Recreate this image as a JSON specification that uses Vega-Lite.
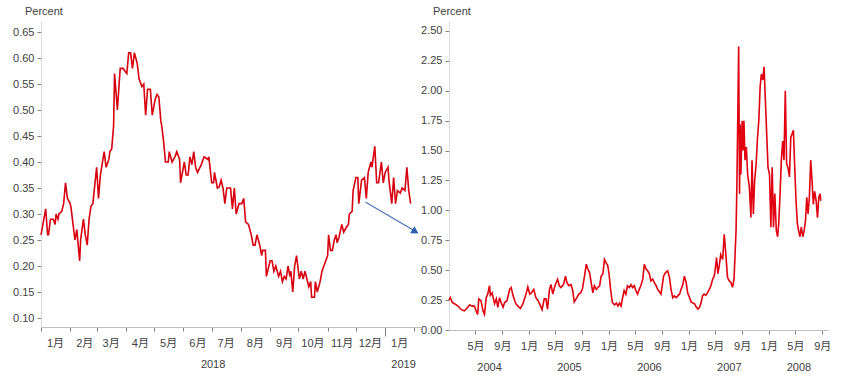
{
  "$schema": "https://vega.github.io/schema/vega-lite/v6.json",
  "padding": {"left": 12, "top": 6, "right": 0, "bottom": 0},
  "spacing": -9,
  "config": {
    "view": {"stroke": null},
    "font": "Liberation Sans, Noto Sans CJK SC, sans-serif",
    "axis": {
      "labelFont": "Liberation Sans, Noto Sans CJK SC, sans-serif",
      "labelFontSize": 11,
      "labelColor": "#404040",
      "domainColor": "#bfbfbf",
      "tickColor": "#808080",
      "grid": false,
      "labelFlush": false,
      "labelOverlap": false,
      "labelBound": false
    },
    "title": {
      "font": "Liberation Sans, sans-serif",
      "fontSize": 11,
      "fontWeight": "normal",
      "color": "#404040",
      "anchor": "start",
      "frame": "group",
      "offset": 4,
      "dx": -16
    }
  },
  "datasets": {
    "left": [
      {"d": "2018-01-01", "v": 0.26}, {"d": "2018-01-04", "v": 0.29}, {"d": "2018-01-06", "v": 0.31}, {"d": "2018-01-08", "v": 0.26},
      {"d": "2018-01-09", "v": 0.26}, {"d": "2018-01-11", "v": 0.29}, {"d": "2018-01-14", "v": 0.29}, {"d": "2018-01-16", "v": 0.28},
      {"d": "2018-01-17", "v": 0.30}, {"d": "2018-01-19", "v": 0.29}, {"d": "2018-01-20", "v": 0.30}, {"d": "2018-01-23", "v": 0.305},
      {"d": "2018-01-25", "v": 0.32}, {"d": "2018-01-27", "v": 0.36}, {"d": "2018-01-29", "v": 0.33}, {"d": "2018-02-01", "v": 0.32},
      {"d": "2018-02-02", "v": 0.31}, {"d": "2018-02-04", "v": 0.28}, {"d": "2018-02-06", "v": 0.25}, {"d": "2018-02-08", "v": 0.27},
      {"d": "2018-02-11", "v": 0.21}, {"d": "2018-02-12", "v": 0.25}, {"d": "2018-02-15", "v": 0.29}, {"d": "2018-02-17", "v": 0.26},
      {"d": "2018-02-19", "v": 0.24}, {"d": "2018-02-21", "v": 0.29}, {"d": "2018-02-23", "v": 0.315}, {"d": "2018-02-25", "v": 0.32},
      {"d": "2018-02-27", "v": 0.355}, {"d": "2018-03-01", "v": 0.39}, {"d": "2018-03-03", "v": 0.33}, {"d": "2018-03-05", "v": 0.375},
      {"d": "2018-03-09", "v": 0.42}, {"d": "2018-03-11", "v": 0.39}, {"d": "2018-03-14", "v": 0.405}, {"d": "2018-03-15", "v": 0.42},
      {"d": "2018-03-17", "v": 0.425}, {"d": "2018-03-19", "v": 0.47}, {"d": "2018-03-20", "v": 0.57}, {"d": "2018-03-23", "v": 0.50},
      {"d": "2018-03-26", "v": 0.58}, {"d": "2018-03-29", "v": 0.58}, {"d": "2018-04-02", "v": 0.57}, {"d": "2018-04-04", "v": 0.61},
      {"d": "2018-04-06", "v": 0.61}, {"d": "2018-04-08", "v": 0.58}, {"d": "2018-04-10", "v": 0.61}, {"d": "2018-04-13", "v": 0.59},
      {"d": "2018-04-15", "v": 0.56}, {"d": "2018-04-18", "v": 0.545}, {"d": "2018-04-20", "v": 0.55}, {"d": "2018-04-22", "v": 0.49},
      {"d": "2018-04-24", "v": 0.54}, {"d": "2018-04-27", "v": 0.54}, {"d": "2018-04-29", "v": 0.49}, {"d": "2018-05-02", "v": 0.52},
      {"d": "2018-05-04", "v": 0.53}, {"d": "2018-05-06", "v": 0.525}, {"d": "2018-05-08", "v": 0.48}, {"d": "2018-05-09", "v": 0.47},
      {"d": "2018-05-11", "v": 0.44}, {"d": "2018-05-13", "v": 0.40}, {"d": "2018-05-16", "v": 0.40}, {"d": "2018-05-17", "v": 0.42},
      {"d": "2018-05-20", "v": 0.40}, {"d": "2018-05-23", "v": 0.41}, {"d": "2018-05-25", "v": 0.42}, {"d": "2018-05-28", "v": 0.405},
      {"d": "2018-05-29", "v": 0.36}, {"d": "2018-06-02", "v": 0.40}, {"d": "2018-06-04", "v": 0.375}, {"d": "2018-06-06", "v": 0.375},
      {"d": "2018-06-08", "v": 0.41}, {"d": "2018-06-10", "v": 0.395}, {"d": "2018-06-12", "v": 0.42}, {"d": "2018-06-14", "v": 0.39},
      {"d": "2018-06-16", "v": 0.38}, {"d": "2018-06-20", "v": 0.395}, {"d": "2018-06-23", "v": 0.41}, {"d": "2018-06-27", "v": 0.405},
      {"d": "2018-06-28", "v": 0.41}, {"d": "2018-07-01", "v": 0.36}, {"d": "2018-07-03", "v": 0.36}, {"d": "2018-07-04", "v": 0.38},
      {"d": "2018-07-07", "v": 0.35}, {"d": "2018-07-09", "v": 0.352}, {"d": "2018-07-11", "v": 0.365}, {"d": "2018-07-13", "v": 0.35},
      {"d": "2018-07-15", "v": 0.32}, {"d": "2018-07-17", "v": 0.35}, {"d": "2018-07-21", "v": 0.35}, {"d": "2018-07-23", "v": 0.31},
      {"d": "2018-07-25", "v": 0.35}, {"d": "2018-07-27", "v": 0.30}, {"d": "2018-07-30", "v": 0.32}, {"d": "2018-08-02", "v": 0.32},
      {"d": "2018-08-04", "v": 0.33}, {"d": "2018-08-06", "v": 0.285}, {"d": "2018-08-09", "v": 0.28}, {"d": "2018-08-12", "v": 0.26},
      {"d": "2018-08-14", "v": 0.24}, {"d": "2018-08-16", "v": 0.24}, {"d": "2018-08-18", "v": 0.26}, {"d": "2018-08-21", "v": 0.24},
      {"d": "2018-08-23", "v": 0.22}, {"d": "2018-08-24", "v": 0.23}, {"d": "2018-08-27", "v": 0.23}, {"d": "2018-08-28", "v": 0.18},
      {"d": "2018-09-01", "v": 0.21}, {"d": "2018-09-03", "v": 0.21}, {"d": "2018-09-05", "v": 0.19}, {"d": "2018-09-07", "v": 0.20},
      {"d": "2018-09-10", "v": 0.18}, {"d": "2018-09-12", "v": 0.19}, {"d": "2018-09-14", "v": 0.17}, {"d": "2018-09-16", "v": 0.18},
      {"d": "2018-09-18", "v": 0.175}, {"d": "2018-09-20", "v": 0.20}, {"d": "2018-09-22", "v": 0.18}, {"d": "2018-09-23", "v": 0.19},
      {"d": "2018-09-25", "v": 0.15}, {"d": "2018-09-27", "v": 0.20}, {"d": "2018-09-29", "v": 0.22}, {"d": "2018-10-02", "v": 0.175},
      {"d": "2018-10-04", "v": 0.19}, {"d": "2018-10-06", "v": 0.175}, {"d": "2018-10-08", "v": 0.19}, {"d": "2018-10-10", "v": 0.175},
      {"d": "2018-10-12", "v": 0.16}, {"d": "2018-10-14", "v": 0.17}, {"d": "2018-10-15", "v": 0.14}, {"d": "2018-10-18", "v": 0.14},
      {"d": "2018-10-19", "v": 0.17}, {"d": "2018-10-21", "v": 0.15}, {"d": "2018-10-24", "v": 0.17}, {"d": "2018-10-26", "v": 0.19},
      {"d": "2018-10-28", "v": 0.20}, {"d": "2018-11-01", "v": 0.22}, {"d": "2018-11-02", "v": 0.26}, {"d": "2018-11-04", "v": 0.23},
      {"d": "2018-11-06", "v": 0.23}, {"d": "2018-11-08", "v": 0.25}, {"d": "2018-11-10", "v": 0.26}, {"d": "2018-11-11", "v": 0.245},
      {"d": "2018-11-13", "v": 0.255}, {"d": "2018-11-16", "v": 0.28}, {"d": "2018-11-18", "v": 0.265}, {"d": "2018-11-21", "v": 0.275},
      {"d": "2018-11-23", "v": 0.28}, {"d": "2018-11-24", "v": 0.30}, {"d": "2018-11-27", "v": 0.305}, {"d": "2018-11-28", "v": 0.345},
      {"d": "2018-12-01", "v": 0.37}, {"d": "2018-12-03", "v": 0.37}, {"d": "2018-12-04", "v": 0.32}, {"d": "2018-12-07", "v": 0.365},
      {"d": "2018-12-10", "v": 0.37}, {"d": "2018-12-12", "v": 0.33}, {"d": "2018-12-14", "v": 0.38}, {"d": "2018-12-17", "v": 0.40},
      {"d": "2018-12-18", "v": 0.39}, {"d": "2018-12-21", "v": 0.43}, {"d": "2018-12-23", "v": 0.36}, {"d": "2018-12-25", "v": 0.36},
      {"d": "2018-12-28", "v": 0.40}, {"d": "2018-12-30", "v": 0.36}, {"d": "2019-01-01", "v": 0.38}, {"d": "2019-01-04", "v": 0.39},
      {"d": "2019-01-05", "v": 0.365}, {"d": "2019-01-08", "v": 0.32}, {"d": "2019-01-10", "v": 0.37}, {"d": "2019-01-12", "v": 0.32},
      {"d": "2019-01-14", "v": 0.345}, {"d": "2019-01-17", "v": 0.34}, {"d": "2019-01-19", "v": 0.35}, {"d": "2019-01-22", "v": 0.345},
      {"d": "2019-01-24", "v": 0.39}, {"d": "2019-01-26", "v": 0.345}, {"d": "2019-01-28", "v": 0.32}
    ],
    "right": [
      {"d": "2004-01-01", "v": 0.25}, {"d": "2004-01-07", "v": 0.27}, {"d": "2004-01-16", "v": 0.23}, {"d": "2004-01-26", "v": 0.22},
      {"d": "2004-02-11", "v": 0.20}, {"d": "2004-02-26", "v": 0.17}, {"d": "2004-03-11", "v": 0.16}, {"d": "2004-03-22", "v": 0.18},
      {"d": "2004-04-04", "v": 0.21}, {"d": "2004-04-16", "v": 0.20}, {"d": "2004-04-26", "v": 0.20}, {"d": "2004-05-04", "v": 0.16},
      {"d": "2004-05-11", "v": 0.13}, {"d": "2004-05-16", "v": 0.26}, {"d": "2004-05-26", "v": 0.245}, {"d": "2004-06-04", "v": 0.16},
      {"d": "2004-06-11", "v": 0.13}, {"d": "2004-06-19", "v": 0.27}, {"d": "2004-06-26", "v": 0.30}, {"d": "2004-07-04", "v": 0.37},
      {"d": "2004-07-08", "v": 0.29}, {"d": "2004-07-16", "v": 0.31}, {"d": "2004-07-27", "v": 0.22}, {"d": "2004-08-04", "v": 0.26},
      {"d": "2004-08-11", "v": 0.19}, {"d": "2004-08-19", "v": 0.27}, {"d": "2004-08-26", "v": 0.23}, {"d": "2004-09-04", "v": 0.19},
      {"d": "2004-09-11", "v": 0.23}, {"d": "2004-09-22", "v": 0.245}, {"d": "2004-10-04", "v": 0.34}, {"d": "2004-10-11", "v": 0.355},
      {"d": "2004-10-19", "v": 0.29}, {"d": "2004-11-01", "v": 0.22}, {"d": "2004-11-11", "v": 0.20}, {"d": "2004-11-22", "v": 0.18},
      {"d": "2004-12-04", "v": 0.22}, {"d": "2004-12-19", "v": 0.31}, {"d": "2004-12-26", "v": 0.36}, {"d": "2005-01-04", "v": 0.30},
      {"d": "2005-01-11", "v": 0.31}, {"d": "2005-01-22", "v": 0.34}, {"d": "2005-02-01", "v": 0.27}, {"d": "2005-02-11", "v": 0.245},
      {"d": "2005-02-20", "v": 0.21}, {"d": "2005-03-01", "v": 0.17}, {"d": "2005-03-11", "v": 0.26}, {"d": "2005-03-19", "v": 0.26},
      {"d": "2005-03-26", "v": 0.175}, {"d": "2005-04-04", "v": 0.34}, {"d": "2005-04-11", "v": 0.38}, {"d": "2005-04-19", "v": 0.30},
      {"d": "2005-04-29", "v": 0.37}, {"d": "2005-05-11", "v": 0.425}, {"d": "2005-05-19", "v": 0.37}, {"d": "2005-05-26", "v": 0.355},
      {"d": "2005-06-07", "v": 0.38}, {"d": "2005-06-16", "v": 0.45}, {"d": "2005-06-22", "v": 0.40}, {"d": "2005-07-01", "v": 0.37},
      {"d": "2005-07-11", "v": 0.38}, {"d": "2005-07-19", "v": 0.33}, {"d": "2005-07-26", "v": 0.235}, {"d": "2005-08-07", "v": 0.27},
      {"d": "2005-08-16", "v": 0.30}, {"d": "2005-08-24", "v": 0.31}, {"d": "2005-09-01", "v": 0.34}, {"d": "2005-09-11", "v": 0.45},
      {"d": "2005-09-19", "v": 0.55}, {"d": "2005-09-26", "v": 0.51}, {"d": "2005-10-04", "v": 0.48}, {"d": "2005-10-11", "v": 0.40},
      {"d": "2005-10-19", "v": 0.31}, {"d": "2005-10-26", "v": 0.37}, {"d": "2005-11-04", "v": 0.34}, {"d": "2005-11-11", "v": 0.355},
      {"d": "2005-11-19", "v": 0.37}, {"d": "2005-11-26", "v": 0.45}, {"d": "2005-12-04", "v": 0.47}, {"d": "2005-12-11", "v": 0.59},
      {"d": "2005-12-19", "v": 0.56}, {"d": "2005-12-26", "v": 0.54}, {"d": "2006-01-01", "v": 0.47}, {"d": "2006-01-08", "v": 0.34},
      {"d": "2006-01-16", "v": 0.23}, {"d": "2006-01-26", "v": 0.21}, {"d": "2006-02-04", "v": 0.225}, {"d": "2006-02-11", "v": 0.20},
      {"d": "2006-02-18", "v": 0.225}, {"d": "2006-02-25", "v": 0.20}, {"d": "2006-03-04", "v": 0.27}, {"d": "2006-03-11", "v": 0.33},
      {"d": "2006-03-19", "v": 0.30}, {"d": "2006-03-26", "v": 0.37}, {"d": "2006-04-04", "v": 0.355}, {"d": "2006-04-11", "v": 0.38},
      {"d": "2006-04-19", "v": 0.355}, {"d": "2006-04-26", "v": 0.37}, {"d": "2006-05-01", "v": 0.34}, {"d": "2006-05-11", "v": 0.30},
      {"d": "2006-05-19", "v": 0.34}, {"d": "2006-05-26", "v": 0.37}, {"d": "2006-06-04", "v": 0.425}, {"d": "2006-06-11", "v": 0.55},
      {"d": "2006-06-19", "v": 0.51}, {"d": "2006-06-26", "v": 0.495}, {"d": "2006-07-04", "v": 0.47}, {"d": "2006-07-11", "v": 0.41},
      {"d": "2006-07-19", "v": 0.425}, {"d": "2006-07-26", "v": 0.40}, {"d": "2006-08-04", "v": 0.37}, {"d": "2006-08-11", "v": 0.34},
      {"d": "2006-08-19", "v": 0.32}, {"d": "2006-08-26", "v": 0.30}, {"d": "2006-09-01", "v": 0.37}, {"d": "2006-09-07", "v": 0.45},
      {"d": "2006-09-16", "v": 0.48}, {"d": "2006-09-26", "v": 0.495}, {"d": "2006-10-04", "v": 0.44}, {"d": "2006-10-11", "v": 0.34},
      {"d": "2006-10-19", "v": 0.27}, {"d": "2006-10-26", "v": 0.285}, {"d": "2006-11-04", "v": 0.27}, {"d": "2006-11-11", "v": 0.285},
      {"d": "2006-11-19", "v": 0.30}, {"d": "2006-11-26", "v": 0.34}, {"d": "2006-12-04", "v": 0.38}, {"d": "2006-12-11", "v": 0.45},
      {"d": "2006-12-19", "v": 0.40}, {"d": "2006-12-26", "v": 0.31}, {"d": "2007-01-04", "v": 0.27}, {"d": "2007-01-11", "v": 0.235},
      {"d": "2007-01-19", "v": 0.225}, {"d": "2007-01-26", "v": 0.22}, {"d": "2007-02-04", "v": 0.19}, {"d": "2007-02-11", "v": 0.175},
      {"d": "2007-02-18", "v": 0.19}, {"d": "2007-02-25", "v": 0.225}, {"d": "2007-03-04", "v": 0.285}, {"d": "2007-03-11", "v": 0.30},
      {"d": "2007-03-19", "v": 0.29}, {"d": "2007-03-26", "v": 0.31}, {"d": "2007-04-04", "v": 0.34}, {"d": "2007-04-11", "v": 0.37},
      {"d": "2007-04-19", "v": 0.425}, {"d": "2007-04-26", "v": 0.45}, {"d": "2007-04-29", "v": 0.48}, {"d": "2007-05-07", "v": 0.605},
      {"d": "2007-05-13", "v": 0.47}, {"d": "2007-05-19", "v": 0.535}, {"d": "2007-05-26", "v": 0.63}, {"d": "2007-06-04", "v": 0.59},
      {"d": "2007-06-11", "v": 0.80}, {"d": "2007-06-19", "v": 0.62}, {"d": "2007-06-26", "v": 0.44}, {"d": "2007-07-04", "v": 0.41},
      {"d": "2007-07-11", "v": 0.40}, {"d": "2007-07-19", "v": 0.357}, {"d": "2007-07-26", "v": 0.43}, {"d": "2007-08-04", "v": 0.83},
      {"d": "2007-08-08", "v": 1.22}, {"d": "2007-08-16", "v": 2.37}, {"d": "2007-08-20", "v": 1.14}, {"d": "2007-08-23", "v": 1.72},
      {"d": "2007-08-26", "v": 1.30}, {"d": "2007-09-01", "v": 1.75}, {"d": "2007-09-05", "v": 1.50}, {"d": "2007-09-09", "v": 1.75},
      {"d": "2007-09-14", "v": 1.42}, {"d": "2007-09-20", "v": 1.53}, {"d": "2007-09-26", "v": 1.30}, {"d": "2007-10-04", "v": 1.19},
      {"d": "2007-10-11", "v": 0.94}, {"d": "2007-10-16", "v": 1.42}, {"d": "2007-10-22", "v": 0.97}, {"d": "2007-10-28", "v": 1.25},
      {"d": "2007-11-04", "v": 1.39}, {"d": "2007-11-10", "v": 1.61}, {"d": "2007-11-16", "v": 1.75}, {"d": "2007-11-22", "v": 2.03},
      {"d": "2007-11-26", "v": 2.11}, {"d": "2007-11-28", "v": 2.14}, {"d": "2007-12-04", "v": 2.09}, {"d": "2007-12-10", "v": 2.20},
      {"d": "2007-12-16", "v": 1.92}, {"d": "2007-12-22", "v": 1.64}, {"d": "2007-12-28", "v": 1.36}, {"d": "2008-01-04", "v": 1.30},
      {"d": "2008-01-10", "v": 0.86}, {"d": "2008-01-16", "v": 1.36}, {"d": "2008-01-22", "v": 0.86}, {"d": "2008-01-28", "v": 1.14},
      {"d": "2008-02-04", "v": 0.83}, {"d": "2008-02-10", "v": 0.78}, {"d": "2008-02-15", "v": 0.89}, {"d": "2008-02-21", "v": 1.14},
      {"d": "2008-02-27", "v": 1.42}, {"d": "2008-03-04", "v": 1.58}, {"d": "2008-03-10", "v": 1.42}, {"d": "2008-03-16", "v": 2.00},
      {"d": "2008-03-22", "v": 1.39}, {"d": "2008-03-28", "v": 1.36}, {"d": "2008-04-04", "v": 1.28}, {"d": "2008-04-10", "v": 1.61},
      {"d": "2008-04-16", "v": 1.64}, {"d": "2008-04-22", "v": 1.67}, {"d": "2008-04-28", "v": 1.36}, {"d": "2008-05-04", "v": 1.08},
      {"d": "2008-05-10", "v": 0.89}, {"d": "2008-05-16", "v": 0.83}, {"d": "2008-05-22", "v": 0.78}, {"d": "2008-05-28", "v": 0.86},
      {"d": "2008-06-04", "v": 0.78}, {"d": "2008-06-10", "v": 0.83}, {"d": "2008-06-16", "v": 0.91}, {"d": "2008-06-22", "v": 1.11},
      {"d": "2008-06-28", "v": 0.97}, {"d": "2008-07-04", "v": 1.11}, {"d": "2008-07-10", "v": 1.42}, {"d": "2008-07-16", "v": 1.25},
      {"d": "2008-07-22", "v": 1.05}, {"d": "2008-07-28", "v": 1.16}, {"d": "2008-08-04", "v": 1.08}, {"d": "2008-08-10", "v": 0.94},
      {"d": "2008-08-16", "v": 1.11}, {"d": "2008-08-22", "v": 1.14}, {"d": "2008-08-25", "v": 1.08}
    ],
    "arrow": [{"d": "2018-12-11", "v": 0.323, "d2": "2019-02-01", "v2": 0.268}],
    "arrowhead": [{"d": "2019-02-02", "v": 0.266}]
  },
  "hconcat": [
    {
      "width": 380,
      "height": 306,
      "title": "Percent",
      "resolve": {"axis": {"x": "independent"}},
      "layer": [
        {
          "data": {"name": "left"},
          "mark": {"type": "line", "color": "#d7000f", "strokeWidth": 1.6},
          "encoding": {
            "x": {
              "field": "d", "type": "temporal",
              "scale": {"type": "utc", "domain": [{"year": 2018, "month": 1, "date": 1, "utc": true}, {"year": 2019, "month": 2, "date": 8, "utc": true}]},
              "axis": {
                "title": null, "orient": "bottom",
                "values": [
                  {"year": 2018, "month": 1, "date": 1, "utc": true}, {"year": 2018, "month": 2, "date": 1, "utc": true},
                  {"year": 2018, "month": 3, "date": 1, "utc": true}, {"year": 2018, "month": 4, "date": 1, "utc": true},
                  {"year": 2018, "month": 5, "date": 1, "utc": true}, {"year": 2018, "month": 6, "date": 1, "utc": true},
                  {"year": 2018, "month": 7, "date": 1, "utc": true}, {"year": 2018, "month": 8, "date": 1, "utc": true},
                  {"year": 2018, "month": 9, "date": 1, "utc": true}, {"year": 2018, "month": 10, "date": 1, "utc": true},
                  {"year": 2018, "month": 11, "date": 1, "utc": true}, {"year": 2018, "month": 12, "date": 1, "utc": true},
                  {"year": 2019, "month": 1, "date": 1, "utc": true}, {"year": 2019, "month": 2, "date": 1, "utc": true}
                ],
                "labelExpr": "utcyear(datum.value) == 2019 && utcmonth(datum.value) == 1 ? '' : (utcmonth(datum.value) + 1) + '月'",
                "labelOffset": 14,
                "labelPadding": {"condition": {"test": "utcyear(datum.value) == 2019 && utcmonth(datum.value) == 0", "value": 1}, "value": 6},
                "tickSize": {"condition": {"test": "utcyear(datum.value) == 2019 && utcmonth(datum.value) == 0", "value": 9}, "value": 4}
              }
            },
            "y": {
              "field": "v", "type": "quantitative",
              "scale": {"domain": [0.0827, 0.6712], "nice": false, "zero": false},
              "axis": {
                "title": null,
                "values": [0.1, 0.15, 0.2, 0.25, 0.3, 0.35, 0.4, 0.45, 0.5, 0.55, 0.6, 0.65],
                "format": ".2f", "tickSize": 4, "labelPadding": 3, "domainColor": "#d9d9d9"
              }
            }
          }
        },
        {
          "data": {"name": "left"},
          "mark": {"type": "rule", "opacity": 0},
          "encoding": {
            "x": {
              "field": "d", "type": "temporal",
              "axis": {
                "title": null, "orient": "bottom", "domain": false, "ticks": false, "tickSize": 0,
                "values": [{"year": 2018, "month": 7, "date": 2, "utc": true}, {"year": 2019, "month": 1, "date": 20, "utc": true}],
                "labelExpr": "utcFormat(datum.value, '%Y')",
                "labelPadding": 31
              }
            }
          }
        },
        {
          "data": {"name": "arrow"},
          "mark": {"type": "rule", "color": "#4a72b8", "strokeWidth": 1.2},
          "encoding": {
            "x": {"field": "d", "type": "temporal", "axis": null},
            "x2": {"field": "d2"},
            "y": {
              "field": "v", "type": "quantitative",
              "axis": {
                "title": null,
                "values": [0.1, 0.15, 0.2, 0.25, 0.3, 0.35, 0.4, 0.45, 0.5, 0.55, 0.6, 0.65],
                "format": ".2f", "tickSize": 4, "labelPadding": 3, "domainColor": "#d9d9d9"
              }
            },
            "y2": {"field": "v2"}
          }
        },
        {
          "data": {"name": "arrowhead"},
          "mark": {"type": "point", "shape": "triangle-right", "angle": 32, "size": 70, "filled": true, "color": "#2f5fb0", "opacity": 1},
          "encoding": {
            "x": {"field": "d", "type": "temporal", "axis": null},
            "y": {
              "field": "v", "type": "quantitative",
              "axis": {
                "title": null,
                "values": [0.1, 0.15, 0.2, 0.25, 0.3, 0.35, 0.4, 0.45, 0.5, 0.55, 0.6, 0.65],
                "format": ".2f", "tickSize": 4, "labelPadding": 3, "domainColor": "#d9d9d9"
              }
            }
          }
        }
      ]
    },
    {
      "width": 379,
      "height": 309,
      "title": "Percent",
      "resolve": {"axis": {"x": "independent"}},
      "layer": [
        {
          "data": {"name": "right"},
          "mark": {"type": "line", "color": "#e0000f", "strokeWidth": 1.6},
          "encoding": {
            "x": {
              "field": "d", "type": "temporal",
              "scale": {"type": "utc", "domain": [{"year": 2004, "month": 1, "date": 1, "utc": true}, {"year": 2008, "month": 9, "date": 27, "utc": true}]},
              "axis": {
                "title": null, "orient": "bottom",
                "values": [
                  {"year": 2004, "month": 5, "date": 1, "utc": true}, {"year": 2004, "month": 9, "date": 1, "utc": true},
                  {"year": 2005, "month": 1, "date": 1, "utc": true}, {"year": 2005, "month": 5, "date": 1, "utc": true},
                  {"year": 2005, "month": 9, "date": 1, "utc": true}, {"year": 2006, "month": 1, "date": 1, "utc": true},
                  {"year": 2006, "month": 5, "date": 1, "utc": true}, {"year": 2006, "month": 9, "date": 1, "utc": true},
                  {"year": 2007, "month": 1, "date": 1, "utc": true}, {"year": 2007, "month": 5, "date": 1, "utc": true},
                  {"year": 2007, "month": 9, "date": 1, "utc": true}, {"year": 2008, "month": 1, "date": 1, "utc": true},
                  {"year": 2008, "month": 5, "date": 1, "utc": true}, {"year": 2008, "month": 9, "date": 1, "utc": true}
                ],
                "labelExpr": "(utcmonth(datum.value) + 1) + '月'",
                "labelPadding": 6,
                "tickSize": 4
              }
            },
            "y": {
              "field": "v", "type": "quantitative",
              "scale": {"domain": [0, 2.5836], "nice": false, "zero": false},
              "axis": {
                "title": null,
                "values": [0, 0.25, 0.5, 0.75, 1, 1.25, 1.5, 1.75, 2, 2.25, 2.5],
                "format": ".2f", "tickSize": 4, "labelPadding": 3, "domainColor": "#d9d9d9"
              }
            }
          }
        },
        {
          "data": {"name": "right"},
          "mark": {"type": "rule", "opacity": 0},
          "encoding": {
            "x": {
              "field": "d", "type": "temporal",
              "axis": {
                "title": null, "orient": "bottom", "domain": false, "ticks": false, "tickSize": 0,
                "values": [
                  {"year": 2004, "month": 7, "date": 2, "utc": true}, {"year": 2005, "month": 7, "date": 2, "utc": true},
                  {"year": 2006, "month": 7, "date": 2, "utc": true}, {"year": 2007, "month": 7, "date": 2, "utc": true},
                  {"year": 2008, "month": 5, "date": 15, "utc": true}
                ],
                "labelExpr": "utcFormat(datum.value, '%Y')",
                "labelPadding": 31
              }
            }
          }
        }
      ]
    }
  ]
}
